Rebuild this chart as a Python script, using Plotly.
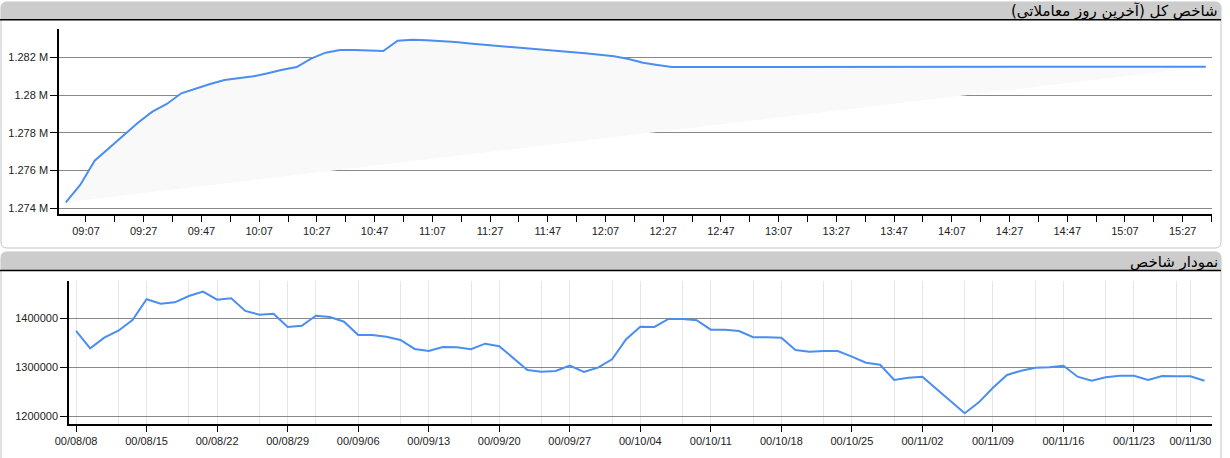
import plotly.graph_objects as go

# ---------------- data ----------------
DAY = "2022-02-20"
intraday_times = [
    "09:00", "09:05", "09:10", "09:15", "09:20", "09:25", "09:30", "09:35", "09:40", "09:45",
    "09:50", "09:55", "10:00", "10:05", "10:10", "10:15", "10:20", "10:25", "10:30", "10:35",
    "10:40", "10:45", "10:50", "10:55", "11:00", "11:05", "11:10", "11:15", "11:20", "11:25",
    "11:30", "11:35", "11:40", "11:45", "11:50", "11:55", "12:00", "12:05", "12:10", "12:15",
    "12:20", "12:25", "12:30", "15:35",
]
intraday_values = [
    1274318, 1275234, 1276522, 1277179, 1277868, 1278535, 1279118, 1279526, 1280093, 1280358,
    1280585, 1280797, 1280887, 1280993, 1281152, 1281343, 1281486, 1281926, 1282244, 1282387,
    1282387, 1282350, 1282334, 1282879, 1282932, 1282901, 1282864, 1282811, 1282731, 1282668,
    1282599, 1282546, 1282493, 1282440, 1282360, 1282281, 1282212, 1282138, 1282058, 1281910,
    1281714, 1281592, 1281486, 1281502,
]
intraday_tick_times = [
    "09:07", "09:17", "09:27", "09:37", "09:47", "09:57", "10:07", "10:17", "10:27", "10:37",
    "10:47", "10:57", "11:07", "11:17", "11:27", "11:37", "11:47", "11:57", "12:07", "12:17",
    "12:27", "12:37", "12:47", "12:57", "13:07", "13:17", "13:27", "13:37", "13:47", "13:57",
    "14:07", "14:17", "14:27", "14:37", "14:47", "14:57", "15:07", "15:17", "15:27", "15:37",
]
intraday_y_ticks = [1274000, 1276000, 1278000, 1280000, 1282000]
intraday_y_labels = ["1.274 M", "1.276 M", "1.278 M", "1.28 M", "1.282 M"]

daily_values = [
    1374000, 1338600, 1360300, 1374600, 1396500, 1438900, 1429900, 1432700, 1445600, 1454500,
    1438100, 1440900, 1415000, 1407400, 1409400, 1382200, 1384800, 1405300, 1402700, 1393000,
    1365800, 1365800, 1362300, 1355600, 1337200, 1333100, 1341300, 1340600, 1336500, 1348000,
    1342700, 1318100, 1294200, 1290700, 1292100, 1303000, 1290100, 1298900, 1316100, 1357000,
    1382800, 1382200, 1398600, 1398600, 1395900, 1376700, 1376700, 1374000, 1361100, 1361100,
    1360300, 1335100, 1331600, 1333100, 1333100, 1321400, 1309100, 1305000, 1273700, 1278400,
    1280500, 1255300, 1231300, 1205500, 1228000, 1257900, 1283900, 1292700, 1298900, 1299700,
    1303000, 1280500, 1272300, 1279200, 1282500, 1282500, 1273700, 1281900, 1281300, 1281300,
    1272300,
]
daily_label_pos = [0, 5, 10, 15, 20, 25, 30, 35, 40, 45, 50, 55, 60, 65, 70, 75, 79]
daily_labels = [
    "00/08/08", "00/08/15", "00/08/22", "00/08/29", "00/09/06", "00/09/13", "00/09/20",
    "00/09/27", "00/10/04", "00/10/11", "00/10/18", "00/10/25", "00/11/02", "00/11/09",
    "00/11/16", "00/11/23", "00/11/30",
]
daily_extra_grid = [3, 8, 13, 17, 23, 28, 33, 38, 43, 48, 53, 58, 63, 68, 73, 78]
daily_y_ticks = [1200000, 1300000, 1400000]

title_top = "شاخص کل (آخرین روز معاملاتی)"
title_bottom = "نمودار شاخص"

# ---------------- geometry helpers ----------------
W, H = 1230, 458


def px(x):
    return x / W


def py(y):
    return 1 - y / H


def rrect(x0, y0, x1, y1, r, top_only=False):
    rx, ry = r / W, r / H
    X0, X1, Y0, Y1 = px(x0), px(x1), py(y0), py(y1)  # Y0 is top (greater)
    p = f"M {X0},{Y0 - ry} Q {X0},{Y0} {X0 + rx},{Y0} L {X1 - rx},{Y0} Q {X1},{Y0} {X1},{Y0 - ry} "
    if top_only:
        p += f"L {X1},{Y1} L {X0},{Y1} Z"
    else:
        p += (f"L {X1},{Y1 + ry} Q {X1},{Y1} {X1 - rx},{Y1} L {X0 + rx},{Y1} "
              f"Q {X0},{Y1} {X0},{Y1 + ry} Z")
    return p


LINE = "#4a8ef0"
x_top = [f"{DAY} {t}" for t in intraday_times]
x_daily = list(range(len(daily_values)))

fig = go.Figure()

# shaded area (closed polygon of the intraday line)
fig.add_trace(go.Scatter(
    x=x_top + [x_top[0]], y=intraday_values + [intraday_values[0]],
    fill="toself", fillcolor="#f9f9f9", mode="lines", line=dict(width=0),
    hoverinfo="skip", showlegend=False, xaxis="x", yaxis="y"))
fig.add_trace(go.Scatter(
    x=x_top, y=intraday_values, mode="lines", line=dict(color=LINE, width=2),
    showlegend=False, xaxis="x", yaxis="y"))
fig.add_trace(go.Scatter(
    x=x_daily, y=daily_values, mode="lines", line=dict(color=LINE, width=2),
    showlegend=False, xaxis="x2", yaxis="y2"))

tickfont = dict(family="Liberation Sans, Arial, sans-serif", size=11, color="#222222")

shapes = [
    dict(type="path", path=rrect(1, 2, 1221, 248, 6), xref="paper", yref="paper",
         fillcolor="white", line=dict(color="#c4c4c4", width=1), layer="below"),
    dict(type="path", path=rrect(1, 2, 1221, 19.5, 6, top_only=True), xref="paper", yref="paper",
         fillcolor="#cccccc", line=dict(width=0), layer="below"),
    dict(type="line", x0=px(0), x1=px(1221), y0=py(19.8), y1=py(19.8), xref="paper", yref="paper",
         line=dict(color="black", width=1.5), layer="below"),
    dict(type="path", path=rrect(1, 252, 1221, 470, 6), xref="paper", yref="paper",
         fillcolor="white", line=dict(color="#c4c4c4", width=1), layer="below"),
    dict(type="path", path=rrect(1, 252, 1221, 270, 6, top_only=True), xref="paper", yref="paper",
         fillcolor="#cccccc", line=dict(width=0), layer="below"),
    dict(type="line", x0=px(0), x1=px(1221), y0=py(270.6), y1=py(270.6), xref="paper", yref="paper",
         line=dict(color="black", width=1.5), layer="below"),
]

titlefont = dict(family="DejaVu Sans, sans-serif", size=15, color="black")
annotations = [
    dict(text=title_top, x=px(1220), y=py(11), xref="paper", yref="paper",
         xanchor="right", yanchor="middle", showarrow=False, font=titlefont),
    dict(text=title_bottom, x=px(1220), y=py(261.5), xref="paper", yref="paper",
         xanchor="right", yanchor="middle", showarrow=False, font=titlefont),
]

fig.update_layout(
    width=W, height=H, margin=dict(l=0, r=0, t=0, b=0, autoexpand=False),
    paper_bgcolor="white", plot_bgcolor="rgba(0,0,0,0)",
    shapes=shapes, annotations=annotations, showlegend=False,
    xaxis=dict(
        domain=[px(59), px(1212)], anchor="y", type="date", automargin=False,
        range=[f"{DAY} 08:57:39", f"{DAY} 15:37:09"],
        tickmode="array", tickvals=[f"{DAY} {t}" for t in intraday_tick_times],
        ticktext=[t if i % 2 == 0 else "" for i, t in enumerate(intraday_tick_times)],
        ticks="outside", ticklen=6, tickcolor="black", tickwidth=1,
        showline=True, linecolor="black", linewidth=1.5, showgrid=False, zeroline=False,
        tickfont=tickfont,
    ),
    yaxis=dict(
        domain=[py(214.3), py(29)], anchor="x", automargin=False,
        range=[1273682, 1283499], tickmode="array", tickvals=intraday_y_ticks,
        ticktext=intraday_y_labels, ticks="outside", ticklen=7, tickcolor="black",
        showline=True, linecolor="black", linewidth=1.5,
        showgrid=True, gridcolor="#888888", gridwidth=1, zeroline=False, tickfont=tickfont,
    ),
    xaxis2=dict(
        domain=[px(69), px(1212)], anchor="y2", range=[-0.5, 80.53], automargin=False,
        tickmode="array", tickvals=daily_label_pos, ticktext=daily_labels,
        ticks="outside", ticklen=6, tickcolor="black", tickwidth=1,
        showline=True, linecolor="black", linewidth=1.5,
        showgrid=True, gridcolor="#e6e6e6", gridwidth=1, zeroline=False,
        minor=dict(tickmode="array", tickvals=daily_extra_grid, showgrid=True,
                   gridcolor="#e6e6e6", gridwidth=1, ticks=""),
        tickfont=tickfont,
    ),
    yaxis2=dict(
        domain=[py(424), py(281)], anchor="x2", range=[1183640, 1476280], automargin=False,
        tickmode="array", tickvals=daily_y_ticks, ticktext=[str(v) for v in daily_y_ticks],
        ticks="outside", ticklen=7, tickcolor="black",
        showline=True, linecolor="black", linewidth=1.5,
        showgrid=True, gridcolor="#888888", gridwidth=1, zeroline=False, tickfont=tickfont,
    ),
)

fig.write_html(
    "out.html",
    config={"displayModeBar": False},
    post_script="document.body.style.margin='0';document.body.style.overflow='hidden';",
)
